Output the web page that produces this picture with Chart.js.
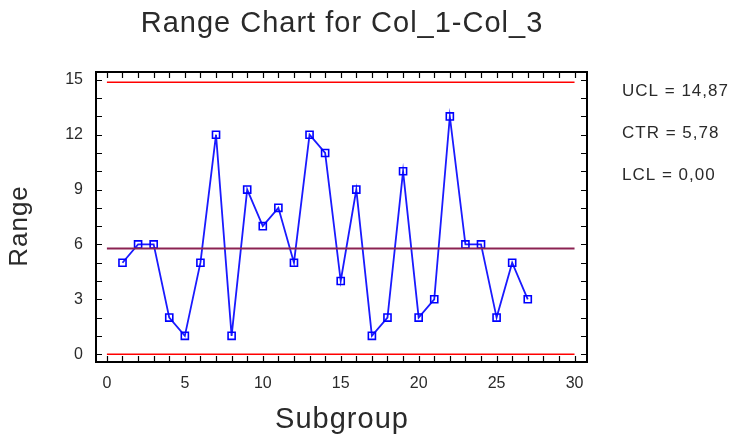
<!DOCTYPE html>
<html><head><meta charset="utf-8">
<script src="https://cdn.jsdelivr.net/npm/chart.js@4.4.1/dist/chart.umd.min.js"></script>
<style>html,body{margin:0;padding:0;background:#fff;}#wrap{width:733px;height:440px;position:relative;}</style>
</head><body><div id="wrap"><canvas id="c" width="733" height="440"></canvas></div>
<script>
const subgroups = [1,2,3,4,5,6,7,8,9,10,11,12,13,14,15,16,17,18,19,20,21,22,23,24,25,26,27];
const ranges = [5,6,6,2,1,5,12,1,9,7,8,5,12,11,4,9,1,2,10,2,3,13,6,6,2,5,3];
const UCL = 14.87, CTR = 5.78, LCL = 0.00;
const limitLabels = ["UCL = 14,87", "CTR = 5,78", "LCL = 0,00"];
const xTicks = [0,5,10,15,20,25,30];
const yTicks = [0,3,6,9,12,15];
const titleText = "Range Chart for Col_1-Col_3";
const xTitle = "Subgroup", yTitle = "Range";

const FONT = "'Liberation Sans', Arial, sans-serif";
const pts = subgroups.map((x,i)=>({x, y: ranges[i]}));
const line = v => [{x:0,y:v},{x:30,y:v}];

const deco = {
  id:'deco',
  afterDraw(chart){
    const ctx = chart.ctx, a = chart.chartArea, xs = chart.scales.x, ys = chart.scales.y;
    ctx.save();
    ctx.strokeStyle = '#000'; ctx.lineWidth = 2;
    ctx.strokeRect(a.left, a.top, a.right-a.left, a.bottom-a.top);
    ctx.lineWidth = 1.2;
    ctx.beginPath();
    for (let v=0; v<=30; v++){
      const px = Math.round(xs.getPixelForValue(v))+0.5;
      ctx.moveTo(px, a.bottom); ctx.lineTo(px, a.bottom-6);
      ctx.moveTo(px, a.top); ctx.lineTo(px, a.top+6);
    }
    for (let v=0; v<=15; v++){
      const py = Math.round(ys.getPixelForValue(v))+0.5;
      ctx.moveTo(a.left, py); ctx.lineTo(a.left+6, py);
      ctx.moveTo(a.right, py); ctx.lineTo(a.right-6, py);
    }
    ctx.stroke();
    ctx.fillStyle = '#2a2a2a';
    ctx.textAlign = 'center'; ctx.textBaseline = 'middle';
    ctx.letterSpacing = '1px';
    ctx.font = "29px " + FONT;
    ctx.fillText(titleText, 342, 24);
    ctx.fillText(xTitle, 342, 420);
    ctx.save();
    ctx.translate(20, 226); ctx.rotate(-Math.PI/2);
    ctx.font = "26px " + FONT;
    ctx.fillText(yTitle, 0, 0);
    ctx.restore();
    ctx.textAlign = 'left';
    ctx.font = "17px " + FONT;
    const ly = [91, 133, 175];
    limitLabels.forEach((t,i)=>ctx.fillText(t, 622, ly[i]));
    ctx.restore();
  }
};

new Chart(document.getElementById('c'), {
  type: 'scatter',
  data: { datasets: [
    { data: line(UCL), showLine:true, borderColor:'#ff0000', borderWidth:1.5, pointRadius:0 },
    { data: line(LCL), showLine:true, borderColor:'#ff0000', borderWidth:1.5, pointRadius:0 },
    { data: line(CTR), showLine:true, borderColor:'#8b2252', borderWidth:2, pointRadius:0 },
    { data: pts, showLine:true, borderColor:'#1a1aff', borderWidth:1.8, pointStyle:'rect',
      pointRadius:5, pointBorderWidth:1.6, pointBackgroundColor:'rgba(0,0,0,0)', pointBorderColor:'#0000ff' }
  ]},
  options: {
    responsive:false, animation:false, events:[],
    layout:{ padding:{ left:0, right:146, top:72, bottom:0 } },
    plugins:{ legend:{display:false}, tooltip:{enabled:false}, title:{display:false} },
    scales:{
      x:{ type:'linear', min:-0.7, max:30.8,
        afterBuildTicks: s => { s.ticks = xTicks.map(v=>({value:v})); },
        afterFit: s => { s.height = 78; },
        grid:{ display:false, drawTicks:false }, border:{display:false},
        ticks:{ padding:12, color:'#2a2a2a', font:{family:FONT, size:16}, maxRotation:0, autoSkip:false } },
      y:{ type:'linear', min:-0.43, max:15.43,
        afterBuildTicks: s => { s.ticks = yTicks.map(v=>({value:v})); },
        afterFit: s => { s.width = 96; },
        grid:{ display:false, drawTicks:false }, border:{display:false},
        ticks:{ padding:13, color:'#2a2a2a', font:{family:FONT, size:16}, autoSkip:false } }
    }
  },
  plugins:[deco]
});
</script></body></html>
